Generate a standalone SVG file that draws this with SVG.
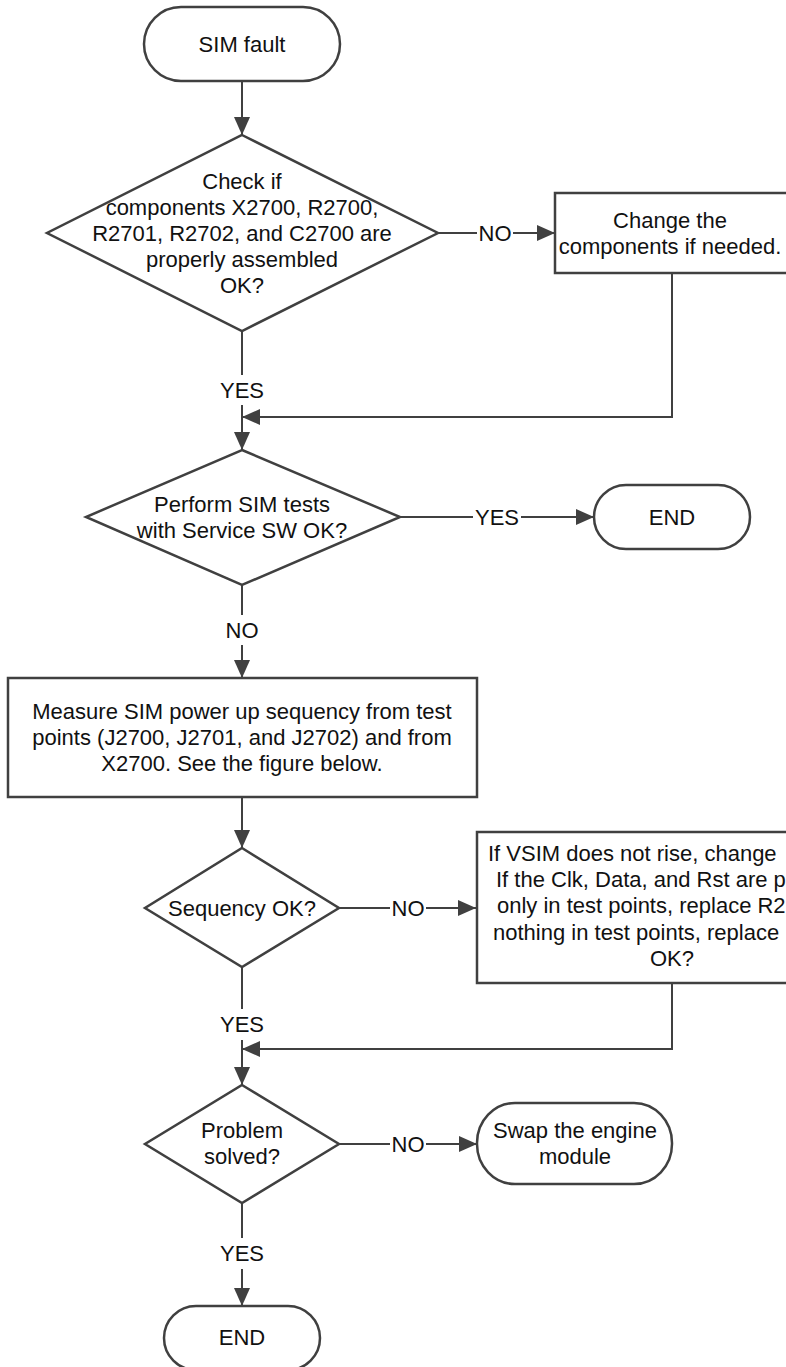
<svg xmlns="http://www.w3.org/2000/svg" width="786" height="1367" viewBox="0 0 786 1367">
<style>
.shape{fill:#fff;stroke:#404040;stroke-width:2.5}
.ln{fill:none;stroke:#404040;stroke-width:2}
.arr{marker-end:url(#ah)}
text{font-family:"Liberation Sans",Arial,sans-serif;font-size:22px;fill:#111}
.c{text-anchor:middle}
</style>
<defs>
<marker id="ah" markerUnits="userSpaceOnUse" markerWidth="18" markerHeight="16" refX="18" refY="8" orient="auto">
<path d="M0,0 L18,8 L0,16 z" fill="#404040"/>
</marker>
</defs>
<rect width="786" height="1367" fill="#fff"/>
<g id="connectors">
<path class="ln arr" d="M242,81 V135"/>
<path class="ln" d="M438,233 H477"/>
<path class="ln arr" d="M513,233 H555"/>
<path class="ln" d="M242,331 V375"/>
<path class="ln arr" d="M242,405 V450"/>
<path class="ln arr" d="M672,273 V417 H242"/>
<path class="ln" d="M400,517 H473"/>
<path class="ln arr" d="M521,517 H594"/>
<path class="ln" d="M242,585 V615"/>
<path class="ln arr" d="M242,645 V678"/>
<path class="ln arr" d="M242,797 V848"/>
<path class="ln" d="M339,908 H390"/>
<path class="ln arr" d="M426,908 H476"/>
<path class="ln" d="M242,967 V1009"/>
<path class="ln arr" d="M242,1040 V1085"/>
<path class="ln arr" d="M672,983 V1049 H242"/>
<path class="ln" d="M339,1144 H390"/>
<path class="ln arr" d="M426,1144 H477"/>
<path class="ln" d="M242,1203 V1238"/>
<path class="ln arr" d="M242,1269 V1306"/>
<text class="c" x="495" y="241">NO</text>
<text class="c" x="242" y="398">YES</text>
<text class="c" x="497" y="525">YES</text>
<text class="c" x="242" y="638">NO</text>
<text class="c" x="408" y="916">NO</text>
<text class="c" x="242" y="1032">YES</text>
<text class="c" x="408" y="1152">NO</text>
<text class="c" x="242" y="1261">YES</text>
</g>
<g id="start">
<rect class="shape" x="144" y="7" width="196" height="74" rx="37" ry="37"/>
<text class="c" x="242" y="52">SIM fault</text>
</g>
<g id="check-components">
<polygon class="shape" points="242,135 438,233 242,331 47,233"/>
<text class="c" x="242" y="189">Check if</text>
<text class="c" x="242" y="215">components X2700, R2700,</text>
<text class="c" x="242" y="241">R2701, R2702, and C2700 are</text>
<text class="c" x="242" y="267">properly assembled</text>
<text class="c" x="242" y="293">OK?</text>
</g>
<g id="change-components">
<rect class="shape" x="555" y="193" width="240" height="80"/>
<text class="c" x="670" y="228">Change the</text>
<text class="c" x="670" y="254">components if needed.</text>
</g>
<g id="sim-tests">
<polygon class="shape" points="242,450 400,517 242,585 86,517"/>
<text class="c" x="242" y="512">Perform SIM tests</text>
<text class="c" x="242" y="538">with Service SW OK?</text>
</g>
<g id="end1">
<rect class="shape" x="594" y="485" width="156" height="64" rx="32" ry="32"/>
<text class="c" x="672" y="525">END</text>
</g>
<g id="measure">
<rect class="shape" x="8" y="678" width="469" height="119"/>
<text class="c" x="242" y="719">Measure SIM power up sequency from test</text>
<text class="c" x="242" y="745">points (J2700, J2701, and J2702) and from</text>
<text class="c" x="242" y="771">X2700. See the figure below.</text>
</g>
<g id="sequency">
<polygon class="shape" points="242,848 339,908 242,967 145,908"/>
<text class="c" x="242" y="916">Sequency OK?</text>
</g>
<g id="vsim">
<rect class="shape" x="477" y="832" width="400" height="151"/>
<text x="488" y="861">If VSIM does not rise, change</text>
<text x="496" y="887">If the Clk, Data, and Rst are p</text>
<text x="497" y="913">only in test points, replace R2</text>
<text x="493" y="940">nothing in test points, replace</text>
<text class="c" x="672" y="966">OK?</text>
</g>
<g id="problem-solved">
<polygon class="shape" points="242,1085 339,1144 242,1203 145,1144"/>
<text class="c" x="242" y="1138">Problem</text>
<text class="c" x="242" y="1164">solved?</text>
</g>
<g id="swap">
<rect class="shape" x="477" y="1103" width="195" height="81" rx="38" ry="40"/>
<text class="c" x="575" y="1138">Swap the engine</text>
<text class="c" x="575" y="1164">module</text>
</g>
<g id="end2">
<rect class="shape" x="164" y="1306" width="156" height="64" rx="32" ry="32"/>
<text class="c" x="242" y="1345">END</text>
</g>
</svg>
